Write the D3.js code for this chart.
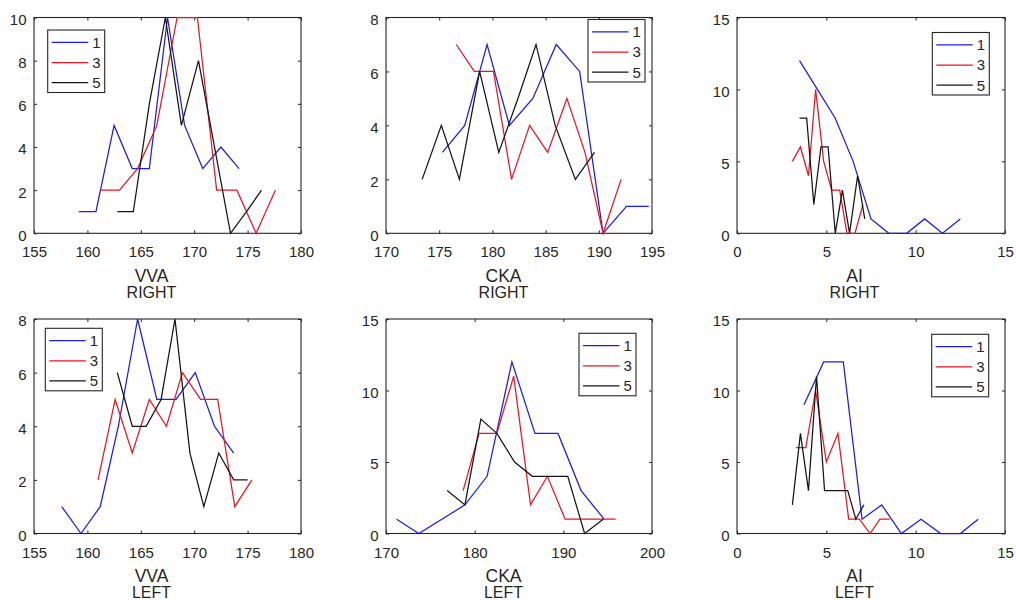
<!DOCTYPE html>
<html>
<head>
<meta charset="utf-8">
<script src="https://cdn.jsdelivr.net/npm/d3@7"></script>
<style>
  body { margin: 0; background: #fff; }
  svg { display: block; }
  text { font-family: "Liberation Sans", Arial, Helvetica, sans-serif; fill: #262626; }
</style>
</head>
<body>
<svg id="chart" width="1016" height="600"></svg>
<script>
// Legend entries shared by every panel
const seriesLabels = ["1", "3", "5"];

// Tick values
const vvaXTicks = [155, 160, 165, 170, 175, 180];
const ckaRightXTicks = [170, 175, 180, 185, 190, 195];
const ckaLeftXTicks = [170, 180, 190, 200];
const aiXTicks = [0, 5, 10, 15];
const vvaRightYTicks = [0, 2, 4, 6, 8, 10];
const ckaRightYTicks = [0, 2, 4, 6, 8];
const vvaLeftYTicks = [0, 2, 4, 6, 8];
const ckaLeftYTicks = [0, 5, 10, 15];
const aiYTicks = [0, 5, 10, 15];

// VVA, right
const vvaRightX1 = [159.2, 160.8, 162.5, 164.2, 165.8, 167.5, 169.1, 170.8, 172.5, 174.2];
const vvaRightY1 = [1, 1, 5, 3, 3, 10, 5, 3, 4, 3];
const vvaRightX3 = [161.2, 163.0, 164.7, 166.5, 168.4, 170.3, 172.1, 174.0, 175.8, 177.6];
const vvaRightY3 = [2, 2, 3, 5, 10, 10, 2, 2, 0, 2];
const vvaRightX5 = [162.8, 164.3, 165.8, 167.3, 168.8, 170.4, 171.9, 173.4, 174.9, 176.3];
const vvaRightY5 = [1, 1, 6, 10, 5, 8, 4, 0, 1, 2];

// CKA, right
const ckaRightX1 = [175.3, 177.4, 179.5, 181.6, 183.8, 186.0, 188.2, 190.4, 192.6, 194.7];
const ckaRightY1 = [3, 4, 7, 4, 5, 7, 6, 0, 1, 1];
const ckaRightX3 = [176.6, 178.3, 180.1, 181.8, 183.5, 185.2, 187.0, 188.7, 190.4, 192.1];
const ckaRightY3 = [7, 6, 6, 2, 4, 3, 5, 3, 0, 2];
const ckaRightX5 = [173.4, 175.2, 176.9, 178.8, 180.6, 182.4, 184.1, 185.9, 187.8, 189.6];
const ckaRightY5 = [2, 4, 2, 6, 3, 5, 7, 4, 2, 3];

// AI, right
const aiRightX1 = [3.5, 4.5, 5.5, 6.5, 7.5, 8.5, 9.5, 10.5, 11.5, 12.5];
const aiRightY1 = [12, 10, 8, 5, 1, 0, 0, 1, 0, 1];
const aiRightX3 = [3.1, 3.55, 4.0, 4.4, 4.85, 5.3, 5.75, 6.15, 6.6, 7.05];
const aiRightY3 = [5, 6, 4, 10, 5, 3, 3, 0, 0, 2];
const aiRightX5 = [3.5, 3.9, 4.3, 4.7, 5.1, 5.5, 5.9, 6.3, 6.75, 7.15];
const aiRightY5 = [8, 8, 2, 6, 6, 0, 3, 0, 4, 1];

// VVA, left
const vvaLeftX1 = [157.6, 159.4, 161.2, 162.9, 164.7, 166.5, 168.3, 170.1, 171.9, 173.7];
const vvaLeftY1 = [1, 0, 1, 4, 8, 5, 5, 6, 4, 3];
const vvaLeftX3 = [161.0, 162.6, 164.2, 165.8, 167.4, 168.9, 170.6, 172.2, 173.8, 175.4];
const vvaLeftY3 = [2, 5, 3, 5, 4, 6, 5, 5, 1, 2];
const vvaLeftX5 = [162.8, 164.2, 165.5, 166.9, 168.2, 169.6, 170.9, 172.3, 173.7, 175.0];
const vvaLeftY5 = [6, 4, 4, 5, 8, 3, 1, 3, 2, 2];

// CKA, left
const ckaLeftX1 = [171.2, 173.7, 176.3, 178.9, 181.4, 184.2, 186.8, 189.4, 192.0, 194.6];
const ckaLeftY1 = [1, 0, 1, 2, 4, 12, 7, 7, 3, 1];
const ckaLeftX3 = [178.7, 180.5, 182.5, 184.4, 186.3, 188.2, 190.2, 192.1, 194.0, 195.9];
const ckaLeftY3 = [3, 7, 7, 11, 2, 4, 1, 1, 1, 1];
const ckaLeftX5 = [176.9, 178.9, 180.7, 182.5, 184.5, 186.5, 188.5, 190.5, 192.4, 194.5];
const ckaLeftY5 = [3, 2, 8, 7, 5, 4, 4, 4, 0, 1];

// AI, left
const aiLeftX1 = [3.75, 4.85, 5.95, 7.0, 8.1, 9.2, 10.3, 11.4, 12.5, 13.5];
const aiLeftY1 = [9, 12, 12, 1, 2, 0, 1, 0, 0, 1];
const aiLeftX3 = [3.3, 3.85, 4.4, 5.0, 5.65, 6.25, 6.85, 7.45, 8.0, 8.55];
const aiLeftY3 = [6, 6, 10, 5, 7, 1, 1, 0, 1, 1];
const aiLeftX5 = [3.1, 3.55, 4.0, 4.45, 4.9, 5.35, 5.8, 6.2, 6.65, 7.1];
const aiLeftY5 = [2, 7, 3, 11, 3, 3, 3, 3, 1, 2];

// ---- layout and styling ----
const lineColors = ["#1c1ce8", "#ea1520", "#141414"];
const frameColor = "#262626";
const columns = [[34, 301], [386, 652], [737, 1005]];
const rows = [[17.5, 233.3], [319, 533.5]];

const zip = (xs, ys) => xs.map((x, i) => [x, ys[i]]);

const panels = [
  { col: 0, row: 0, name: "VVA", side: "RIGHT", xTicks: vvaXTicks, yTicks: vvaRightYTicks,
    series: [zip(vvaRightX1, vvaRightY1), zip(vvaRightX3, vvaRightY3), zip(vvaRightX5, vvaRightY5)],
    legend: { left: 13.7, top: 12.5 } },
  { col: 1, row: 0, name: "CKA", side: "RIGHT", xTicks: ckaRightXTicks, yTicks: ckaRightYTicks,
    series: [zip(ckaRightX1, ckaRightY1), zip(ckaRightX3, ckaRightY3), zip(ckaRightX5, ckaRightY5)],
    legend: { right: 7, top: 2 } },
  { col: 2, row: 0, name: "AI", side: "RIGHT", xTicks: aiXTicks, yTicks: aiYTicks,
    series: [zip(aiRightX1, aiRightY1), zip(aiRightX3, aiRightY3), zip(aiRightX5, aiRightY5)],
    legend: { right: 15.7, top: 15 } },
  { col: 0, row: 1, name: "VVA", side: "LEFT", xTicks: vvaXTicks, yTicks: vvaLeftYTicks,
    series: [zip(vvaLeftX1, vvaLeftY1), zip(vvaLeftX3, vvaLeftY3), zip(vvaLeftX5, vvaLeftY5)],
    legend: { left: 11.3, top: 9.3 } },
  { col: 1, row: 1, name: "CKA", side: "LEFT", xTicks: ckaLeftXTicks, yTicks: ckaLeftYTicks,
    series: [zip(ckaLeftX1, ckaLeftY1), zip(ckaLeftX3, ckaLeftY3), zip(ckaLeftX5, ckaLeftY5)],
    legend: { right: 16, top: 14.3 } },
  { col: 2, row: 1, name: "AI", side: "LEFT", xTicks: aiXTicks, yTicks: aiYTicks,
    series: [zip(aiLeftX1, aiLeftY1), zip(aiLeftX3, aiLeftY3), zip(aiLeftX5, aiLeftY5)],
    legend: { right: 16.3, top: 15.3 } }
];

const svg = d3.select("#chart");
svg.append("rect").attr("width", 1016).attr("height", 600).attr("fill", "#fff");

const tickLen = 3;

panels.forEach(p => {
  const [x0, x1] = columns[p.col];
  const [y0, y1] = rows[p.row];
  const x = d3.scaleLinear().domain([p.xTicks[0], p.xTicks[p.xTicks.length - 1]]).range([x0, x1]);
  const y = d3.scaleLinear().domain([p.yTicks[0], p.yTicks[p.yTicks.length - 1]]).range([y1, y0]);

  const g = svg.append("g");

  // inward ticks on all four sides, labels on bottom and left
  const styleAxis = sel => {
    sel.select(".domain").remove();
    sel.selectAll(".tick line").attr("stroke", frameColor).attr("stroke-width", 1);
    sel.selectAll("text").attr("font-size", 15).attr("font-family", null).attr("fill", frameColor);
  };
  g.append("g").attr("transform", `translate(0,${y1})`)
    .call(d3.axisBottom(x).tickValues(p.xTicks).tickSize(-tickLen).tickPadding(13.5).tickFormat(d3.format("d")))
    .call(styleAxis);
  g.append("g").attr("transform", `translate(0,${y0})`)
    .call(d3.axisTop(x).tickValues(p.xTicks).tickSize(-tickLen).tickFormat(""))
    .call(styleAxis);
  g.append("g").attr("transform", `translate(${x0},0)`)
    .call(d3.axisLeft(y).tickValues(p.yTicks).tickSize(-tickLen).tickPadding(7.5).tickFormat(d3.format("d")))
    .call(styleAxis)
    .selectAll("text").attr("dy", "0.46em");
  g.append("g").attr("transform", `translate(${x1},0)`)
    .call(d3.axisRight(y).tickValues(p.yTicks).tickSize(-tickLen).tickFormat(""))
    .call(styleAxis);

  // box
  g.append("rect")
    .attr("x", x0).attr("y", y0).attr("width", x1 - x0).attr("height", y1 - y0)
    .attr("fill", "none").attr("stroke", frameColor).attr("stroke-width", 1.1);

  // series lines
  const line = d3.line().x(d => x(d[0])).y(d => y(d[1]));
  p.series.forEach((s, i) => {
    g.append("path").datum(s)
      .attr("d", line)
      .attr("fill", "none")
      .attr("stroke", lineColors[i])
      .attr("stroke-width", 1.25)
      .attr("stroke-linejoin", "miter");
  });

  // axis titles (measure, then side)
  const labelX = x0 + 117.5;
  g.append("text").attr("x", labelX).attr("y", y1 + 48.7)
    .attr("text-anchor", "middle").attr("font-size", 17.5).text(p.name);
  g.append("text").attr("x", labelX).attr("y", y1 + 64.7)
    .attr("text-anchor", "middle").attr("font-size", 16).text(p.side);

  // legend
  const lw = 57, lh = 62.5;
  const lx = p.legend.left !== undefined ? x0 + p.legend.left : x1 - p.legend.right - lw;
  const ly = y0 + p.legend.top;
  const lg = g.append("g").attr("transform", `translate(${lx},${ly})`);
  lg.append("rect").attr("width", lw).attr("height", lh)
    .attr("fill", "#fff").attr("stroke", frameColor).attr("stroke-width", 1.1);
  seriesLabels.forEach((lab, i) => {
    const ry = 12.3 + i * 20.2;
    lg.append("line").attr("x1", 4).attr("x2", 40.5).attr("y1", ry).attr("y2", ry)
      .attr("stroke", lineColors[i]).attr("stroke-width", 1.25);
    lg.append("text").attr("x", 44.5).attr("y", ry).attr("dy", "0.36em")
      .attr("font-size", 15).text(lab);
  });
});
</script>
</body>
</html>
